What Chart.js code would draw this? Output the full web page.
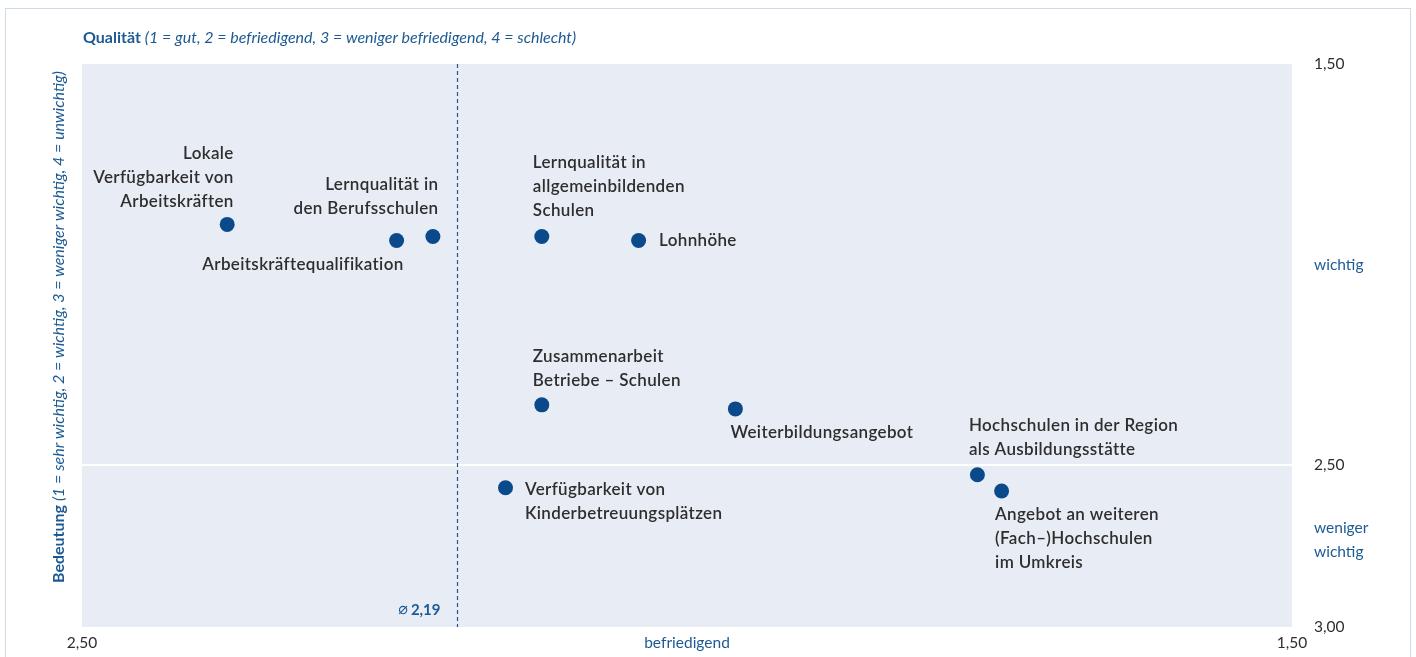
<!DOCTYPE html>
<html lang="de">
<head>
<meta charset="utf-8">
<title>Bedeutung und Qualität von Standortfaktoren</title>
<script src="https://cdn.jsdelivr.net/npm/chart.js@4/dist/chart.umd.min.js"></script>
<style>
  html, body { margin: 0; padding: 0; background: #fff; }
  #wrap { width: 1416px; height: 657px; }
</style>
</head>
<body>
<div id="wrap"><canvas id="chart" width="1416" height="657"></canvas></div>
<script>
// Standortfaktoren: Qualität (x) gegen Bedeutung (y)
const factors = [
  ['Lokale', 'Verfügbarkeit von', 'Arbeitskräften'],
  ['Arbeitskräftequalifikation'],
  ['Lernqualität in', 'den Berufsschulen'],
  ['Lernqualität in', 'allgemeinbildenden', 'Schulen'],
  ['Lohnhöhe'],
  ['Zusammenarbeit', 'Betriebe – Schulen'],
  ['Weiterbildungsangebot'],
  ['Verfügbarkeit von', 'Kinderbetreuungsplätzen'],
  ['Hochschulen in der Region', 'als Ausbildungsstätte'],
  ['Angebot an weiteren', '(Fach–)Hochschulen', 'im Umkreis']
];
const quality = [2.38, 2.24, 2.21, 2.12, 2.04, 2.12, 1.96, 2.15, 1.76, 1.74];
const importance = [1.90, 1.94, 1.93, 1.93, 1.94, 2.35, 2.36, 2.57, 2.53, 2.58];
const meanQuality = 2.19;

const xTickValues = [2.5, 2.0, 1.5];
const xTickLabels = ['2,50', 'befriedigend', '1,50'];
const yTickValues = [1.5, 2.0, 2.5, 2.73, 3.0];
const yTickLabels = ['1,50', 'wichtig', '2,50', ['weniger', 'wichtig'], '3,00'];

// the printed importance axis is not linear: 1,50-2,50 takes more room than 2,50-3,00
const importanceStops = [[1.5, 0], [2.5, 0.7123], [3.0, 1]];

// label placement relative to the point (pixels)
const labelPlacement = [
  { align: 'right', dx: 6.5, dy: -71 },
  { align: 'right', dx: 7, dy: 24 },
  { align: 'right', dx: 5.5, dy: -52 },
  { align: 'left', dx: -9, dy: -74 },
  { align: 'left', dx: 20.5, dy: 0 },
  { align: 'left', dx: -9, dy: -48 },
  { align: 'left', dx: -5, dy: 24 },
  { align: 'left', dx: 19.5, dy: 1.5 },
  { align: 'left', dx: -8.5, dy: -49 },
  { align: 'left', dx: -6.5, dy: 24 }
];

const FONT = 'Lato, "Open Sans", sans-serif';
const blue = '#1d5a93';
const dark = '#2e2e2e';
const dotColor = '#0a4a8b';
const plotBg = '#e8edf5';

class SegmentedScale extends Chart.LinearScale {
  getPixelForValue(value) {
    const stops = importanceStops;
    let dec = 0;
    for (let i = 1; i < stops.length; i++) {
      const [v0, d0] = stops[i - 1];
      const [v1, d1] = stops[i];
      if (value <= v1 || i === stops.length - 1) {
        dec = d0 + (value - v0) / (v1 - v0) * (d1 - d0);
        break;
      }
    }
    return this.getPixelForDecimal(dec);
  }
  getValueForPixel(pixel) {
    const dec = this.getDecimalForPixel(pixel);
    const stops = importanceStops;
    for (let i = 1; i < stops.length; i++) {
      const [v0, d0] = stops[i - 1];
      const [v1, d1] = stops[i];
      if (dec <= d1 || i === stops.length - 1) return v0 + (dec - d0) / (d1 - d0) * (v1 - v0);
    }
    return stops[0][0];
  }
}
SegmentedScale.id = 'segmented';
Chart.register(SegmentedScale);

const decorPlugin = {
  id: 'decor',
  beforeDraw(chart) {
    const { ctx, chartArea: a } = chart;
    ctx.save();
    ctx.fillStyle = plotBg;
    ctx.fillRect(a.left, a.top, a.right - a.left, a.bottom - a.top);
    // outer frame
    ctx.strokeStyle = '#cddbe8';
    ctx.lineWidth = 1;
    ctx.strokeRect(5.5, 8.5, 1405, 700);
    ctx.restore();
  },
  beforeDatasetsDraw(chart) {
    const { ctx, chartArea: a, scales } = chart;
    const x = Math.round(scales.x.getPixelForValue(meanQuality)) + 0.5;
    ctx.save();
    ctx.strokeStyle = '#1c5794';
    ctx.lineWidth = 1.2;
    ctx.setLineDash([4, 3]);
    ctx.beginPath();
    ctx.moveTo(x, a.top);
    ctx.lineTo(x, a.bottom);
    ctx.stroke();
    ctx.setLineDash([]);
    ctx.fillStyle = blue;
    ctx.textBaseline = 'middle';
    ctx.textAlign = 'right';
    ctx.font = `bold 15px ${FONT}`;
    const num = meanQuality.toFixed(2).replace('.', ',');
    ctx.fillText(num, x - 17, a.bottom - 17);
    const w = ctx.measureText(num).width;
    ctx.font = `16px "DejaVu Sans", ${FONT}`;
    ctx.fillText('⌀', x - 20 - w, a.bottom - 17);
    ctx.restore();
  },
  afterDatasetsDraw(chart) {
    const { ctx } = chart;
    const points = chart.getDatasetMeta(0).data;
    ctx.save();
    ctx.fillStyle = dark;
    ctx.textBaseline = 'middle';
    ctx.font = `600 17px ${FONT}`;
    ctx.letterSpacing = '0.35px';
    points.forEach((pt, i) => {
      const p = labelPlacement[i];
      ctx.textAlign = p.align;
      factors[i].forEach((line, j) => {
        ctx.fillText(line, pt.x + p.dx, pt.y + p.dy + j * 24);
      });
    });
    ctx.restore();
  },
  afterDraw(chart) {
    const { ctx, chartArea: a } = chart;
    ctx.save();
    ctx.fillStyle = blue;
    ctx.textBaseline = 'middle';
    ctx.textAlign = 'left';
    // quality heading
    ctx.font = `bold 16px ${FONT}`;
    ctx.fillText('Qualität', a.left + 1, 38);
    let w = ctx.measureText('Qualität ').width;
    ctx.font = `italic 16px ${FONT}`;
    ctx.fillText('(1 = gut, 2 = befriedigend, 3 = weniger befriedigend, 4 = schlecht)', a.left + 1 + w, 38);
    // importance heading, rotated
    ctx.translate(59, 583);
    ctx.rotate(-Math.PI / 2);
    ctx.font = `bold 16px ${FONT}`;
    ctx.fillText('Bedeutung', 0, 0);
    w = ctx.measureText('Bedeutung ').width;
    ctx.font = `italic 16px ${FONT}`;
    ctx.fillText('(1 = sehr wichtig, 2 = wichtig, 3 = weniger wichtig, 4 = unwichtig)', w, 0);
    ctx.restore();
  }
};

const tickColor = (labels, values) => (c) => {
  const i = values.indexOf(c.tick && c.tick.value);
  return typeof labels[i] === 'string' && /^[0-9]/.test(labels[i]) ? dark : blue;
};

new Chart(document.getElementById('chart'), {
  type: 'scatter',
  data: {
    datasets: [{
      label: 'Standortfaktoren',
      data: quality.map((q, i) => ({ x: q, y: importance[i] })),
      backgroundColor: dotColor,
      borderWidth: 0,
      pointRadius: 7.5,
      pointHoverRadius: 7.5
    }]
  },
  options: {
    responsive: false,
    animation: false,
    devicePixelRatio: 1,
    events: [],
    layout: { padding: { left: 82, top: 64, right: 0, bottom: 0 } },
    plugins: { legend: { display: false }, tooltip: { enabled: false } },
    scales: {
      x: {
        type: 'linear',
        reverse: true,
        min: 1.5,
        max: 2.5,
        afterBuildTicks: (s) => { s.ticks = xTickValues.map((v) => ({ value: v })); },
        afterFit: (s) => { s.height = 30; },
        grid: { display: false, drawTicks: false },
        border: { display: false },
        ticks: {
          autoSkip: false,
          maxRotation: 0,
          padding: 7,
          font: { family: FONT, size: 15.5 },
          color: tickColor(xTickLabels, xTickValues),
          callback: (v, i) => xTickLabels[i]
        }
      },
      y: {
        type: 'segmented',
        position: 'right',
        reverse: true,
        min: 1.5,
        max: 3.0,
        afterBuildTicks: (s) => { s.ticks = yTickValues.map((v) => ({ value: v })); },
        afterFit: (s) => { s.width = 124; s.paddingTop = 0; s.paddingBottom = 0; },
        grid: {
          drawTicks: false,
          lineWidth: 2,
          color: (c) => (c.tick && c.tick.value === 2.5 ? '#ffffff' : 'rgba(0,0,0,0)')
        },
        border: { display: false },
        ticks: {
          autoSkip: false,
          padding: 22,
          font: { family: FONT, size: 15.5, lineHeight: 1.55 },
          color: tickColor(yTickLabels, yTickValues),
          callback: (v, i) => yTickLabels[i]
        }
      }
    }
  },
  plugins: [decorPlugin]
});
</script>
</body>
</html>
